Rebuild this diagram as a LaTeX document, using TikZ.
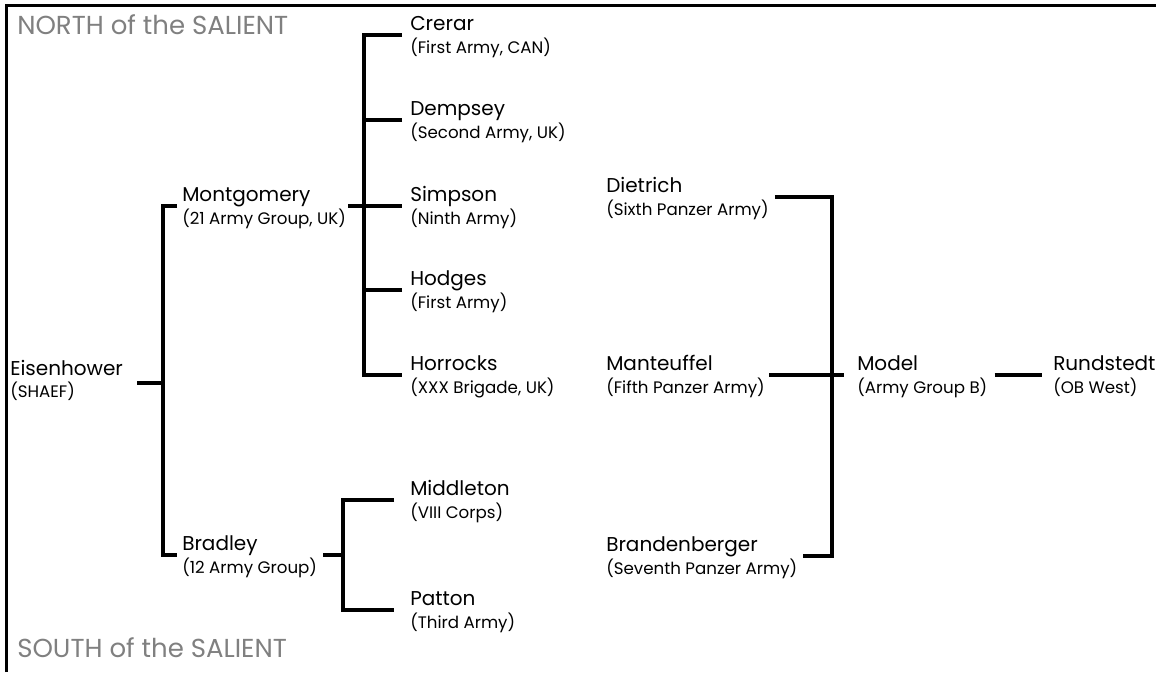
\documentclass[tikz,border=0pt]{standalone}
\usepackage{fontspec}
\setmainfont{Poppins}
\usepackage{xcolor}
\usetikzlibrary{positioning,calc}

\definecolor{regiongray}{gray}{0.5}

\begin{document}
\begin{tikzpicture}[x=0.75pt,y=-0.75pt,
  chief/.style={anchor=south west, inner xsep=0pt, inner ysep=3pt, text depth=0pt,
                font=\fontsize{15}{18}\selectfont},
  unit/.style={anchor=base west, inner sep=0pt, font=\fontsize{12.5}{15}\selectfont},
  region/.style={anchor=base west, inner sep=0pt, text=regiongray,
                 font=\fontsize{19.5}{23}\selectfont},
  link/.style={line width=2.7pt}]

\useasboundingbox (0,0) rectangle (1156,672);

% frame, top and left only
\draw[line width=2.3pt] (6.5,672) -- (6.5,5.8) -- (1156,5.8);

% region titles
\node[region] (north-t) at (17,34) {NORTH of the SALIENT};
\node[region] (south-t) at (17,657) {SOUTH of the SALIENT};

% Allied command
\node[chief] (eisen) at (10,380) {Eisenhower};
\node[unit] (eisen-u) at (10,397) {(SHAEF)};

\node[chief] (montgomery) at (182,206) {Montgomery};
\node[unit] (montgomery-u) at (182,224) {(21 Army Group, UK)};
\node[chief] (bradley) at (182,555) {Bradley};
\node[unit] (bradley-u) at (182,573) {(12 Army Group)};

% armies north of the salient
\node[chief] (crerar) at (410,35) {Crerar};
\node[unit] (crerar-u) at (410,53) {(First Army, CAN)};
\node[chief] (dempsey) at (410,120) {Dempsey};
\node[unit] (dempsey-u) at (410,138) {(Second Army, UK)};
\node[chief] (simpson) at (410,206) {Simpson};
\node[unit] (simpson-u) at (410,224) {(Ninth Army)};
\node[chief] (hodges) at (410,290) {Hodges};
\node[unit] (hodges-u) at (410,308) {(First Army)};
\node[chief] (horrocks) at (410,375) {Horrocks};
\node[unit] (horrocks-u) at (410,393) {(XXX Brigade, UK)};

% south of the salient
\node[chief] (middleton) at (410,500) {Middleton};
\node[unit] (middleton-u) at (410,518) {(VIII Corps)};
\node[chief] (patton) at (410,610) {Patton};
\node[unit] (patton-u) at (410,628) {(Third Army)};

% German side
\node[chief] (dietrich) at (606,197) {Dietrich};
\node[unit] (dietrich-u) at (606,215) {(Sixth Panzer Army)};
\node[chief] (manteuffel) at (606,375) {Manteuffel};
\node[unit] (manteuffel-u) at (606,393) {(Fifth Panzer Army)};
\node[chief] (brandenberger) at (606,556) {Brandenberger};
\node[unit] (brandenberger-u) at (606,574) {(Seventh Panzer Army)};

\node[chief] (model) at (857,375) {Model};
\node[unit] (model-u) at (857,393) {(Army Group B)};
\node[chief] (rundstedt) at (1053,375) {Rundstedt};
\node[unit] (rundstedt-u) at (1053,393) {(OB West)};

% junctions of the brackets
\coordinate (allied) at (163,383);
\coordinate (northarm) at (364,206);
\coordinate (southarm) at (343,555);
\coordinate (axis) at (832,375);

% Eisenhower to army groups
\draw[link] ($(allied -| eisen.east)+(14,0)$) -- (allied);
\draw[link] ([shift={(-5,0)}]montgomery.south west) -| (allied) |- ([shift={(-5,0)}]bradley.south west);

% Montgomery to his armies
\draw[link] ([shift={(-8,0)}]crerar.south west) -| (northarm) |- ([shift={(-8,0)}]horrocks.south west);
\draw[link] ([shift={(-8,0)}]dempsey.south west) -- (dempsey.south west -| northarm);
\draw[link] ([shift={(-8,0)}]hodges.south west) -- (hodges.south west -| northarm);
\draw[link] ($(montgomery.south -| montgomery-u.east)+(2,0)$) -- ([shift={(-8,0)}]simpson.south west);

% Bradley to his corps
\draw[link] ($(bradley.south -| bradley-u.east)+(6,0)$) -- (southarm);
\draw[link] ([shift={(-16,0)}]middleton.south west) -| (southarm) |- ([shift={(-16,0)}]patton.south west);

% panzer armies to Model, Model to Rundstedt
\draw[link] ($(dietrich.south -| dietrich-u.east)+(6,0)$) -| (axis) |- ($(brandenberger.south -| brandenberger-u.east)+(6,0)$);
\draw[link] ($(manteuffel.south -| manteuffel-u.east)+(4,0)$) -- ([shift={(-13,0)}]model.south west);
\draw[link] ($(model.south -| model-u.east)+(7,0)$) -- ([shift={(-11,0)}]rundstedt.south west);

\end{tikzpicture}
\end{document}
